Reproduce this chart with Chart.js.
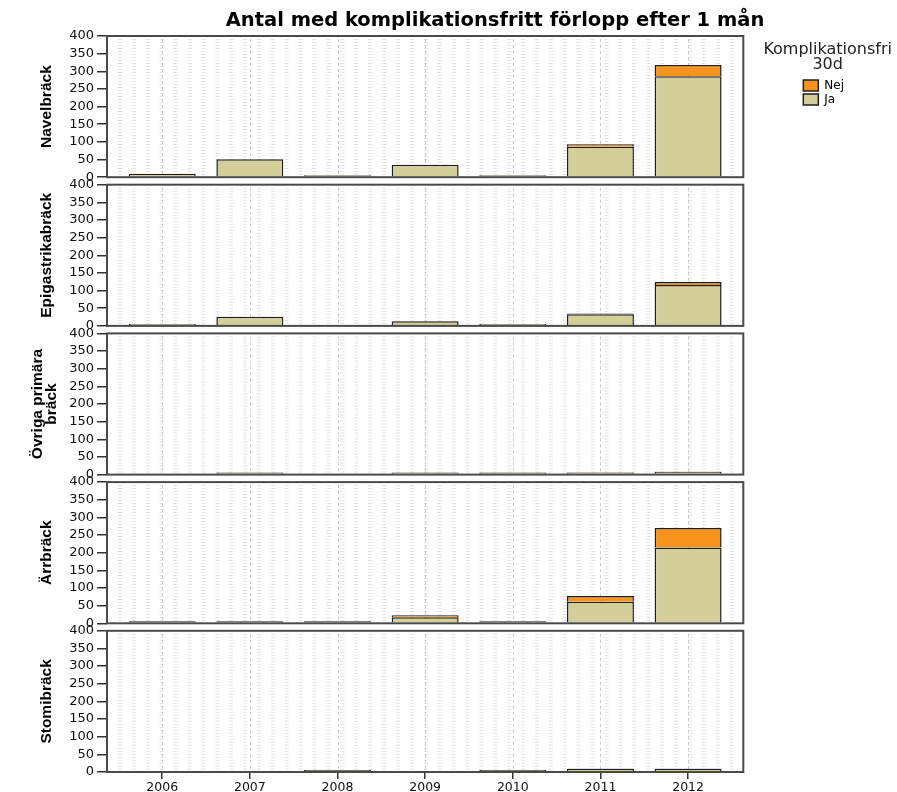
<!DOCTYPE html>
<html>
<head>
<meta charset="utf-8">
<title>Antal med komplikationsfritt förlopp efter 1 mån</title>
<script src="https://cdn.jsdelivr.net/npm/chart.js@4.4.1/dist/chart.umd.min.js"></script>
<style>
  body { margin: 0; background: #fff; }
  #chart { display: block; }
</style>
</head>
<body>
<canvas id="chart" width="897" height="792"></canvas>
<script>
var years = [2006, 2007, 2008, 2009, 2010, 2011, 2012];

// antal per år, Ja = komplikationsfri, Nej = komplikation
var navelJa  = [10, 51, 2, 35, 3, 86, 286];
var navelNej = [0, 0, 0, 0, 0, 7, 32];
var epiJa  = [5, 26, 0, 13, 5, 33, 116];
var epiNej = [0, 0, 0, 0, 0, 2, 8];
var ovrigaJa  = [0, 1, 0, 1, 1, 6, 8];
var ovrigaNej = [0, 0, 0, 0, 0, 1, 1];
var arrJa  = [1, 2, 1, 17, 3, 61, 215];
var arrNej = [0, 0, 0, 6, 0, 16, 55];
var stomiJa  = [0, 0, 1, 0, 1, 9, 9];
var stomiNej = [0, 0, 0, 0, 0, 1, 1];

var panelTitles = ['Navelbräck', 'Epigastrikabräck', ['Övriga primära', 'bräck'], 'Ärrbräck', 'Stomibräck'];
var yMax = 400;
var yStep = 50;
var chartTitle = 'Antal med komplikationsfritt förlopp efter 1 mån';
var legendTitle = ['Komplikationsfri', '30d'];

var panels = [
  [navelJa, navelNej],
  [epiJa, epiNej],
  [ovrigaJa, ovrigaNej],
  [arrJa, arrNej],
  [stomiJa, stomiNej]
];

var colJa = '#d4cf98';
var colNej = '#f7941d';
var tickFont = {family: "'DejaVu Sans', sans-serif", size: 13};
var panelFont = {family: "'Liberation Sans', Arial, sans-serif", size: 15.5, weight: 'bold', lineHeight: 0.9};

// empty years get no bar at all
function toPoints(vals) {
  return years.map(function(yr, k) { return {x: yr, y: vals[k] === 0 ? null : vals[k]}; });
}

window.onload = function onload() {

  var datasets = [];
  panels.forEach(function(p, i) {
    datasets.push({
      label: 'Ja', data: toPoints(p[0]), yAxisID: 'y' + i,
      backgroundColor: colJa, borderColor: '#1e1e1e', borderWidth: 1.5,
      grouped: false, barPercentage: 0.955, categoryPercentage: 0.8, minBarLength: 2
    });
    datasets.push({
      label: 'Nej', data: toPoints(p[1]), yAxisID: 'y' + i,
      backgroundColor: colNej, borderColor: '#1e1e1e', borderWidth: 1.5,
      grouped: false, barPercentage: 0.955, categoryPercentage: 0.8
    });
  });

  var scales = {
    x: {
      type: 'linear', min: 2005.37, max: 2012.63, offset: false,
      grid: {offset: false, drawOnChartArea: false, drawTicks: true, tickLength: 7, color: '#333', lineWidth: 1.5},
      border: {display: false},
      ticks: {
        stepSize: 1, includeBounds: false, padding: 1, autoSkip: false, maxRotation: 0,
        color: '#111', font: {family: "'DejaVu Sans', sans-serif", size: 12.5},
        callback: function(v) { return String(v); }
      },
      afterFit: function(s) { s.height = 20; }
    },
    side: {
      type: 'linear', axis: 'y', position: 'right',
      grid: {display: false}, ticks: {display: false}, border: {display: false},
      afterFit: function(s) { s.width = 58; }
    }
  };

  // stacked axes are placed bottom-up, so the lowest panel goes in first
  for (var i = panels.length - 1; i >= 0; i--) {
    scales['y' + i] = {
      type: 'linear', position: 'left', stack: 'panels', stackWeight: 141, stacked: true,
      min: 0, max: yMax,
      ticks: {stepSize: yStep, autoSkip: false, padding: 3, color: '#111', font: tickFont},
      grid: {drawOnChartArea: false, drawTicks: true, tickLength: 10, color: '#333', lineWidth: 1.5},
      border: {display: false},
      title: {
        display: true, text: panelTitles[i], color: '#000', font: panelFont,
        padding: {top: Array.isArray(panelTitles[i]) ? 31 : 40, bottom: 0}
      },
      afterFit: function(s) { s.width = 107; }
    };
    if (i > 0) {
      scales['gap' + i] = {
        type: 'linear', position: 'left', stack: 'panels', stackWeight: 7.5,
        grid: {display: false}, ticks: {display: false}, border: {display: false}
      };
    }
  }

  var panelPlugin = {
    id: 'panelBoxes',
    beforeDatasetsDraw: function(chart) {
      var ctx = chart.ctx, area = chart.chartArea, xs = chart.scales.x;
      panels.forEach(function(p, i) {
        var ys = chart.scales['y' + i];
        ctx.save();
        ctx.beginPath();
        ctx.rect(area.left, ys.top, area.right - area.left, ys.bottom - ys.top);
        ctx.clip();
        // faint hatch pattern in the background
        ctx.setLineDash([1, 2]);
        ctx.lineWidth = 4;
        ctx.strokeStyle = '#e4e4e4';
        for (var x = area.left + 13; x < area.right - 2; x += 13.9) {
          ctx.beginPath();
          ctx.moveTo(x, ys.top + 3);
          ctx.lineTo(x, ys.bottom);
          ctx.stroke();
        }
        ctx.setLineDash([3, 3]);
        ctx.lineWidth = 1;
        ctx.strokeStyle = '#cacaca';
        years.forEach(function(yr) {
          var px = Math.round(xs.getPixelForValue(yr)) + 0.5;
          ctx.beginPath();
          ctx.moveTo(px, ys.top + 3);
          ctx.lineTo(px, ys.bottom);
          ctx.stroke();
        });
        ctx.restore();
      });
    },
    afterDatasetsDraw: function(chart) {
      var ctx = chart.ctx, area = chart.chartArea;
      ctx.save();
      ctx.lineWidth = 2;
      ctx.strokeStyle = '#4a4a4a';
      panels.forEach(function(p, i) {
        var ys = chart.scales['y' + i];
        ctx.strokeRect(area.left, ys.top, area.right - area.left, ys.bottom - ys.top);
      });
      ctx.restore();
    },
    afterDraw: function(chart) {
      var ctx = chart.ctx, lg = chart.legend;
      ctx.save();
      ctx.fillStyle = '#000';
      ctx.textAlign = 'center';
      ctx.textBaseline = 'middle';
      ctx.font = "bold 19.5px 'DejaVu Sans', sans-serif";
      ctx.fillText(chartTitle, 495, 21);
      // legend heading is wider than the legend box, so it is drawn here
      ctx.fillStyle = '#222';
      ctx.font = "16px 'DejaVu Sans', sans-serif";
      var cx = (lg.left + lg.right) / 2;
      legendTitle.forEach(function(t, k) {
        ctx.fillText(t, cx, lg.top + 14 + k * 15);
      });
      ctx.restore();
    }
  };

  var ctx = document.getElementById('chart').getContext('2d');
  var myChart = new Chart(ctx, {
    type: 'bar',
    data: {datasets: datasets},
    options: {
      responsive: false,
      animation: false,
      layout: {padding: {left: 0, right: 43, top: 36, bottom: 0}},
      scales: scales,
      plugins: {
        tooltip: {enabled: false},
        legend: {
          position: 'right', align: 'start', maxWidth: 90,
          title: {
            display: true, text: '',
            font: {family: "'DejaVu Sans', sans-serif", size: 15, lineHeight: 1},
            padding: {top: 20, bottom: 6.5}
          },
          labels: {
            boxWidth: 15, boxHeight: 11, padding: 2, color: '#000',
            font: {family: "'DejaVu Sans', sans-serif", size: 12},
            filter: function(item) { return item.datasetIndex < 2; },
            sort: function(a, b) { return b.datasetIndex - a.datasetIndex; }
          }
        }
      }
    },
    plugins: [panelPlugin]
  });

};
</script>
</body>
</html>
